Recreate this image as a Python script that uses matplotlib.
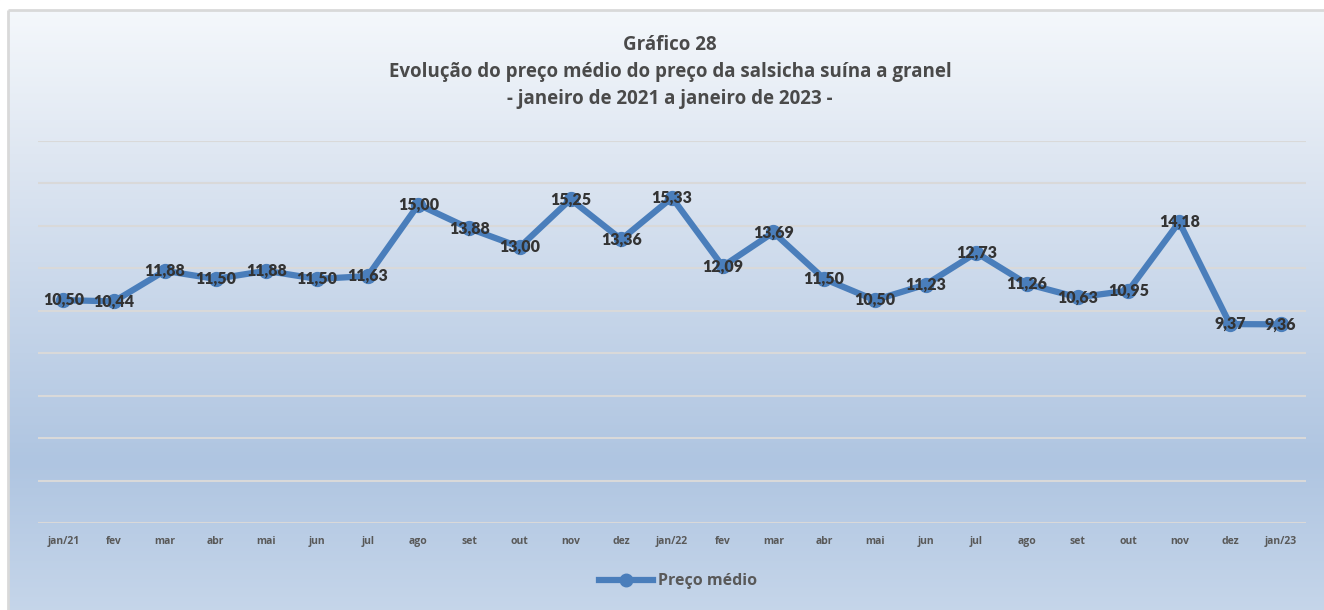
import numpy as np
import matplotlib
matplotlib.use("Agg")
import matplotlib.pyplot as plt
from matplotlib.colors import LinearSegmentedColormap
from matplotlib.lines import Line2D
from matplotlib.patches import Rectangle

# data
months = ['jan/21', 'fev', 'mar', 'abr', 'mai', 'jun', 'jul', 'ago', 'set', 'out', 'nov', 'dez',
          'jan/22', 'fev', 'mar', 'abr', 'mai', 'jun', 'jul', 'ago', 'set', 'out', 'nov', 'dez', 'jan/23']
precos = [10.50, 10.44, 11.88, 11.50, 11.88, 11.50, 11.63, 15.00, 13.88, 13.00, 15.25, 13.36,
          15.33, 12.09, 13.69, 11.50, 10.50, 11.23, 12.73, 11.26, 10.63, 10.95, 14.18, 9.37, 9.36]

line_color = '#4a7ebb'
title_color = '#4a4a4a'

fig = plt.figure(figsize=(13.24, 6.10), dpi=100)

# background gradient (white at top, blue in the lower part)
bg = fig.add_axes([0, -0.01, 1.01, 1.01], zorder=0)
cmap = LinearSegmentedColormap.from_list('bg', [(0.0, '#f6f9fc'), (0.25, '#dfe7f2'),
                                                (0.75, '#afc5e1'), (1.0, '#c6d6ea')])
grad = np.linspace(0, 1, 256).reshape(-1, 1)
bg.imshow(grad, aspect='auto', cmap=cmap, extent=[0, 1, 1, 0])
bg.set_xlim(0, 1)
bg.set_ylim(1, 0)
bg.axis('off')
# white margin with a grey edge on top and left, as in the spreadsheet
bg.add_patch(Rectangle((0, 0), 1, 0.014, color='white'))
bg.add_patch(Rectangle((0, 0), 0.0055, 1, color='white'))
bg.plot([0.0058, 1], [0.0155, 0.0155], color='#d9d9d9', lw=2, solid_capstyle='butt')
bg.plot([0.0058, 0.0058], [0.0155, 1], color='#d9d9d9', lw=2, solid_capstyle='butt')

ax = fig.add_axes([0.0287, 0.1426, 0.9577, 0.6264], zorder=1)
ax.patch.set_alpha(0)
x = np.arange(len(months))
ax.plot(x, precos, color=line_color, lw=4.5, marker='o', ms=10, solid_capstyle='round',
        zorder=3)
for xi, v in zip(x, precos):
    ax.text(xi, v, f'{v:.2f}'.replace('.', ','), ha='center', va='center',
            fontsize=11.5, fontweight='heavy', color='#333333', family='Lato', zorder=4)

ax.set_xlim(-0.5, len(months) - 0.5)
ax.set_ylim(0, 18)
ax.set_yticks(np.arange(0, 19, 2))
ax.set_yticklabels([])
ax.tick_params(axis='y', length=0)
ax.grid(axis='y', color='#d9d9d9', lw=1.5)
ax.set_axisbelow(True)
ax.set_xticks(x)
ax.set_xticklabels(months, fontsize=7.5, fontweight='bold', color='#595959', family='Open Sans')
ax.tick_params(axis='x', length=0, pad=9)
for s in ax.spines.values():
    s.set_visible(False)

# title
titles = ['Gráfico 28',
          'Evolução do preço médio do preço da salsicha suína a granel',
          '- janeiro de 2021 a janeiro de 2023 -']
for i, t in enumerate(titles):
    fig.text(0.506, 0.926 - i * 0.0445, t, ha='center', va='center', fontsize=13.5,
             fontweight='bold', color=title_color, family='Open Sans')

# legend
handle = Line2D([], [], color=line_color, lw=4.5, marker='o', ms=9)
leg = fig.legend([handle], ['Preço médio'], loc='center', bbox_to_anchor=(0.512, 0.047),
                 frameon=False, handlelength=3.4, handletextpad=0.3,
                 prop={'weight': 'bold', 'size': 11.5, 'family': 'Open Sans'})
for t in leg.get_texts():
    t.set_color('#595959')

fig.savefig('out.png', dpi=100)
